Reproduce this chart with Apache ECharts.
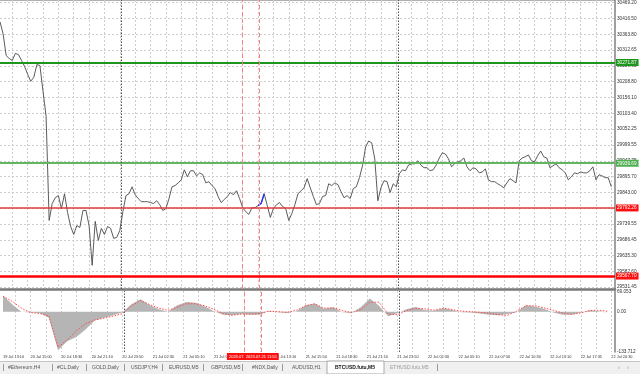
<!DOCTYPE html>
<html><head><meta charset="utf-8">
<script src="https://cdn.jsdelivr.net/npm/echarts@6/dist/echarts.min.js"></script>
<style>html,body{margin:0;padding:0;background:#fff}#c{width:640px;height:374px}</style>
</head><body><div id="c"></div>
<script>
// ---------- DATA ----------
const price = [
30406,30367,30295,30285,30279,30302,30298,30279,30259,30233,
30210,30223,30265,30262,30177,30095,29751,29807,29826,29833,
29790,29839,29777,29731,29705,29734,29728,29784,29784,29734,
29603,29748,29685,29725,29705,29731,29725,29692,29695,29718,
29780,29833,29839,29862,29836,29823,29813,29813,29813,29810,
29807,29816,29803,29784,29790,29823,29862,29866,29875,29885,
29918,29895,29915,29915,29898,29908,29902,29875,29879,29866,
29856,29830,29810,29820,29830,29843,29836,29849,29823,29793,
29780,29771,29793,29793,29800,29807,29839,29800,29761,29790,
29803,29810,29797,29790,29751,29774,29803,29839,29849,29859,
29889,29859,29830,29803,29807,29830,29833,29872,29866,29875,
29869,29846,29826,29833,29823,29856,29862,29892,29931,29993,
30013,30007,29954,29816,29859,29882,29879,29843,29872,29862,
29905,29918,29915,29934,29938,29938,29948,29934,29925,29925,
29915,29918,29934,29957,29974,29970,29954,29928,29938,29944,
29948,29957,29928,29915,29925,29921,29908,29911,29921,29885,
29879,29879,29872,29866,29859,29875,29889,29882,29875,29948,
29957,29961,29967,29948,29944,29964,29980,29961,29957,29925,
29931,29938,29925,29918,29908,29885,29895,29908,29905,29911,
29908,29908,29915,29928,29885,29902,29898,29892,29892,29862
];
const priceTicks = [30469.20,30416.50,30363.80,30312.65,30259.95,30208.80,30156.10,30103.40,30052.25,29999.55,29947.75,29895.70,29843.00,29791.85,29739.55,29686.45,29635.30,29582.60,29531.45];
const timeLabels = ['19 Jul 13:10','20 Jul 15:00','20 Jul 18:30','20 Jul 21:10','20 Jul 23:50','21 Jul 02:30','21 Jul 05:10','21 Jul 07:50','21 Jul 10:30','21 Jul 13:10','21 Jul 15:50','21 Jul 18:30','21 Jul 21:10','21 Jul 23:50','22 Jul 02:30','22 Jul 05:10','22 Jul 07:50','22 Jul 10:30','22 Jul 13:10','22 Jul 17:35','22 Jul 20:30'];
const timeLabelIdx = [0,9,19,29,39,49,59,69,79,89,99,109,119,129,139,149,159,169,179,189,199];
const gridIdx = [4,9,14,19,24,29,34,39,44,49,54,59,64,69,74,79,84,89,94,99,104,109,114,119,124,129,134,139,144,149,154,159,164,169,174,179,184,189,194,199];
const levels = [30271.87, 29939.69, 29792.26, 29567.70];
const vLines = [79, 84.5];
const vLineLabels = ['2023.07.21 10:30','2023.07.21 11:55'];
const daySeparators = [39.6, 129.6];
const blueRange = [84, 86];
const macdIdx = [0,3,6,9,12,15,18,21,24,27,30,33,36,39,42,45,48,51,54,57,60,63,66,69,72,75,78,81,84,87,90,93,96,99,102,105,108,111,114,117,120,123,126,129,132,135,138,141,144,147,150,153,156,159,162,165,168,171,174,177,180,183,186,189,192,195,198];
const macdHist = [55,25,0,-3,-4,-20,-130,-100,-85,-60,-30,-20,-12,-3,25,42,22,8,0,22,33,30,18,2,-10,-12,-8,-10,-10,3,-2,-4,2,22,28,10,15,-2,-4,15,45,20,-15,-5,8,16,6,3,12,6,-2,-3,-6,-10,-12,-8,-2,22,18,10,-3,-10,-10,-3,5,2,-3];
const macdSignal = [52,35,12,-3,-6,-14,-120,-95,-65,-40,-28,-22,-15,-7,20,38,24,12,5,15,27,27,20,8,-6,-12,-8,-8,-6,2,0,-2,5,20,27,12,13,4,-3,7,32,32,-8,-10,4,12,10,5,12,7,2,0,-2,-5,-10,-12,2,20,20,13,5,-4,-9,-4,4,5,1];
const macdTicks = [69.053, 0, -133.712];
const macdTickLabels = ['69.053','0.00','-133.712'];
const tabs = ['#Ethereum,H4','#CL,Daily','GOLD,Daily','USDJPY,H4','EURUSD,M5','GBPUSD,M5','#NDX,Daily','AUDUSD,H1','BTCUSD.futu,M5','ETHUSD.futu,M5'];
const activeTab = 8;

// ---------- STYLE / LAYOUT ----------
const FONT = 'Liberation Sans';
const X_MAX = 200.2;
const levelStyles = [
  {color:'#1e961e', width:2, bg:'#1e961e'},
  {color:'#62b562', width:2, bg:'#4fae4f'},
  {color:'#e23a3a', width:1.5, bg:'#ff1010'},
  {color:'#ff0000', width:2.5, bg:'#ff1010'}
];
const gridLine = {show:true, lineStyle:{color:'#cdcdcd', width:1, type:[2,2]}};
const tabTextX = [8,57,92,131,169,211,252,292,335,390];
const tabSepX = [3,52,86,124,162,203,242,282,437];

const chart = echarts.init(document.getElementById('c'), null, {renderer:'canvas', width:640, height:374});

const vLineMarks = (withLabel) => vLines.map((v,k)=>({
  xAxis: v,
  lineStyle:{color:'#ff8080', width:1, type:[4,3]},
  label: withLabel ? {show:true, position:'start', distance:1, formatter: vLineLabels[k], backgroundColor:'#ff1010', color:'#fff', fontSize:4, padding:[1.5,2], fontFamily:FONT} : {show:false}
}));
const dayMarks = daySeparators.map(v=>({xAxis:v, lineStyle:{color:'#555', width:1, type:[1.5,1.5]}, label:{show:false}}));

const graphic = [];
graphic.push({type:'line', shape:{x1:0,y1:0.5,x2:615,y2:0.5}, style:{stroke:'#b0b0b0', lineWidth:1}, silent:true});
graphic.push({type:'rect', shape:{x:0,y:361,width:640,height:13}, style:{fill:'#f0f0f0'}, silent:true});
graphic.push({type:'line', shape:{x1:0,y1:361.5,x2:640,y2:361.5}, style:{stroke:'#c4c4c4', lineWidth:1}, silent:true});
graphic.push({type:'rect', shape:{x:327,y:361,width:57,height:13}, style:{fill:'#ffffff', stroke:'#a8a8a8', lineWidth:1}, silent:true});
tabSepX.forEach(x=>graphic.push({type:'line', shape:{x1:x+0.5,y1:364,x2:x+0.5,y2:371}, style:{stroke:'#9a9a9a', lineWidth:1}, silent:true}));
tabs.forEach((t,k)=>graphic.push({type:'text', x:tabTextX[k], y:367.5, silent:true,
  style:{text:t, fontSize:5, fontFamily:FONT, fill: k===activeTab ? '#111' : (k===activeTab+1 ? '#9a9a9a' : '#555'), fontWeight: k===activeTab ? 'bold' : 'normal', verticalAlign:'middle', align:'left'}}));
graphic.push({type:'text', x:618, y:367.5, silent:true, style:{text:'‹', fontSize:6, fill:'#999', verticalAlign:'middle'}});
graphic.push({type:'text', x:627, y:367.5, silent:true, style:{text:'›', fontSize:6, fill:'#999', verticalAlign:'middle'}});

const option = {
  animation:false,
  backgroundColor:'#ffffff',
  grid:[{left:0,right:25,top:0,height:289},{left:0,right:25,top:291,height:61}],
  xAxis:[
    {type:'value', gridIndex:0, min:0, max:X_MAX,
     axisLine:{show:true, onZero:false, lineStyle:{color:'#7a7a7a', width:2.5}},
     axisTick:{show:false, customValues:gridIdx}, axisLabel:{show:false}, splitLine:gridLine},
    {type:'value', gridIndex:1, min:0, max:X_MAX,
     axisLine:{show:false, onZero:false},
     axisTick:{show:false, customValues:gridIdx},
     axisLabel:{show:true, customValues:timeLabelIdx, formatter:(v)=>timeLabels[timeLabelIdx.indexOf(v)], align:'left', fontSize:3.9, color:'#333', margin:2.5, fontFamily:FONT},
     splitLine:gridLine}
  ],
  yAxis:[
    {type:'value', gridIndex:0, position:'right', min:29525, max:30478,
     axisLine:{show:true, onZero:false, lineStyle:{color:'#808080', width:1.5}},
     axisTick:{show:false, customValues:priceTicks},
     axisLabel:{customValues:priceTicks, formatter:(v)=>v.toFixed(2), fontSize:4.7, color:'#333', margin:2, fontFamily:FONT},
     splitLine:gridLine},
    {type:'value', gridIndex:1, position:'right', min:-136, max:70,
     axisLine:{show:true, onZero:false, lineStyle:{color:'#808080', width:1.5}},
     axisTick:{show:false, customValues:macdTicks},
     axisLabel:{customValues:macdTicks, formatter:(v)=>macdTickLabels[macdTicks.indexOf(v)], fontSize:4.7, color:'#333', margin:2, fontFamily:FONT},
     splitLine:{show:false}}
  ],
  series:[
    {type:'line', xAxisIndex:0, yAxisIndex:0, data: price.map((v,i)=>[i,v]), showSymbol:false, symbol:'none',
     lineStyle:{color:'#4a4a4a', width:0.9}, z:3,
     markLine:{silent:true, symbol:['none','none'], animation:false,
       data: levels.map((v,k)=>({yAxis:v, lineStyle:{color:levelStyles[k].color, width:levelStyles[k].width, type:'solid'},
         label:{show:true, position:'end', distance:1, formatter:(p)=>Number(p.value).toFixed(2), backgroundColor:levelStyles[k].bg, color:'#fff', fontSize:4.7, padding:[1,2,1,1], fontFamily:FONT}}))
         .concat(vLineMarks(false)).concat(dayMarks)}},
    {type:'line', xAxisIndex:0, yAxisIndex:0, data: price.slice(blueRange[0], blueRange[1]+1).map((v,k)=>[blueRange[0]+k, v]), showSymbol:false, symbol:'none',
     lineStyle:{color:'#1f2fff', width:1.3}, z:4},
    {type:'line', xAxisIndex:1, yAxisIndex:1, data: macdHist.map((v,k)=>[macdIdx[k], v]), showSymbol:false, symbol:'none',
     lineStyle:{width:0, color:'#b5b5b5'}, areaStyle:{color:'#b5b5b5', opacity:1, origin:0}, z:2,
     markLine:{silent:true, symbol:['none','none'], animation:false, data: vLineMarks(true).concat(dayMarks)}},
    {type:'line', xAxisIndex:1, yAxisIndex:1, data: macdSignal.map((v,k)=>[macdIdx[k], v]), showSymbol:false, symbol:'none',
     lineStyle:{color:'#ff4d4d', width:1, type:[1.5,1.5]}, z:3}
  ],
  graphic: graphic
};
chart.setOption(option);
</script>
</body></html>
